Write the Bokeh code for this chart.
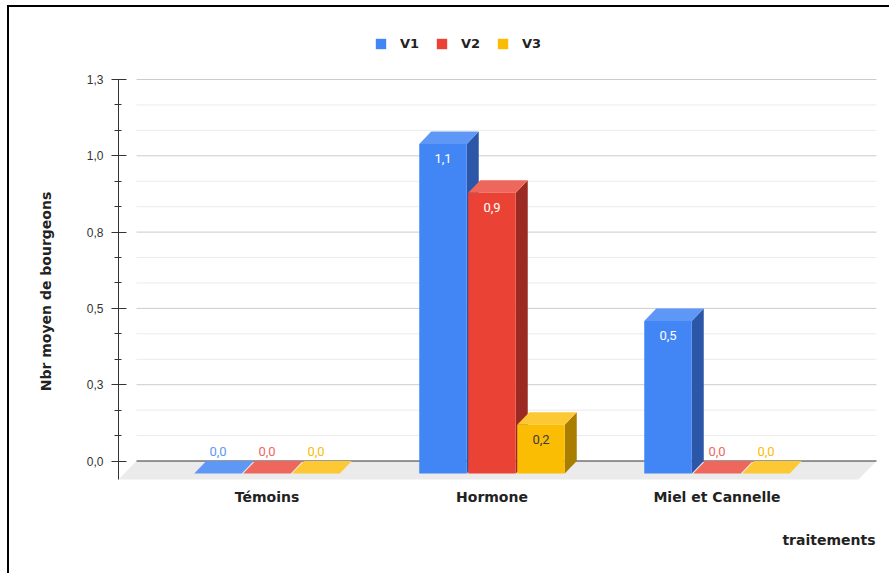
import numpy as np
from bokeh.plotting import figure
from bokeh.models import (ColumnDataSource, FixedTicker, Legend, LegendItem,
                          Range1d)
from bokeh.core.properties import value
from bokeh.embed import file_html
from bokeh.resources import INLINE

# ---------------- data ----------------
categories = ["Témoins", "Hormone", "Miel et Cannelle"]
series_names = ["V1", "V2", "V3"]
v1 = [0.0, 1.08, 0.50]
v2 = [0.0, 0.92, 0.0]
v3 = [0.0, 0.16, 0.0]
y_ticks = [0.0, 0.25, 0.5, 0.75, 1.0, 1.25]
y_tick_labels = ["0,0", "0,3", "0,5", "0,8", "1,0", "1,3"]
y_axis_title = "Nbr moyen de bourgeons"
x_axis_title = "traitements"

# ---------------- styles ----------------
front_colors = ["#4285f4", "#ea4335", "#fbbc04"]
top_colors = ["#5e97f6", "#ee675c", "#fcc934"]
side_colors = ["#2c56a8", "#9b2a22", "#a87d00"]
zero_label_colors = ["#5e97f6", "#ee675c", "#fbbc04"]
inside_label_colors = ["#ffffff", "#ffffff", "#3a3a3a"]
BOLD = "DejaVu Sans"

W, H = 882, 568
FL = 109                 # frame left (canvas px)
X_PX = 225.0
Y_PX = 305.2
x_start = -0.66
x_end = x_start + (W - FL) / X_PX
x_right = x_start + 758 / X_PX       # right end of the floor / gridlines
floor_front = -0.0606                # y of floor front edge
y_start = floor_front - 96 / Y_PX
y_end = floor_front + 472 / Y_PX

bar_w = 47.5 / X_PX
step = 49.0 / X_PX
dx = 12.0 / X_PX
dy = 12.5 / Y_PX
fdx = 18.0 / X_PX

p = figure(width=W, height=H, x_range=Range1d(x_start, x_end),
           y_range=Range1d(y_start, y_end), output_backend="svg",
           toolbar_location=None, x_axis_location=None,
           min_border_left=FL, min_border_right=0,
           min_border_top=0, min_border_bottom=0)
p.styles = {"border-top": "2px solid #000", "border-left": "2px solid #000",
            "margin-left": "7px", "margin-top": "5px"}
p.outline_line_color = None
p.xgrid.visible = False
p.ygrid.visible = False
p.background_fill_color = "#ffffff"
p.border_fill_color = "#ffffff"

# floor
p.patch([x_start, x_right - fdx, x_right, x_start + fdx],
        [floor_front, floor_front, 0, 0], fill_color="#ebebeb", line_color=None)

# gridlines
minor_vals = [k / 12 for k in range(1, 16) if k % 3 != 0]
major_vals = [t for t in y_ticks if t != 0]
n = len(minor_vals)
p.segment(x0=[x_start + fdx] * n, y0=minor_vals, x1=[x_right] * n, y1=minor_vals,
          line_color="#ebebeb", line_width=1)
m = len(major_vals)
p.segment(x0=[x_start + fdx] * m, y0=major_vals, x1=[x_right] * m, y1=major_vals,
          line_color="#cccccc", line_width=1)
p.segment(x0=[x_start + fdx], y0=[0], x1=[x_right], y1=[0],
          line_color="#333333", line_width=1)

# 3D bars
legend_items = []
all_series = [v1, v2, v3]
lab_x, lab_y, lab_t, lab_c = [], [], [], []
for j, vals in enumerate(all_series):
    fx, fy, tx, ty, sx, sy = [], [], [], [], [], []
    for i, v in enumerate(vals):
        cx = i + (j - 1) * step
        l, r = cx - bar_w / 2, cx + bar_w / 2
        fx.append([l, r, r, l]); fy.append([-dy, -dy, v - dy, v - dy])
        tx.append([l, r, r + dx, l + dx]); ty.append([v - dy, v - dy, v, v])
        sx.append([r, r + dx, r + dx, r]); sy.append([-dy, 0, v, v - dy])
        lab_x.append(cx)
        lab_t.append(f"{v:.1f}".replace(".", ","))
        if v > 0:
            lab_y.append(v - dy - 15.0 / Y_PX)
            lab_c.append(inside_label_colors[j])
        else:
            lab_y.append(9.5 / Y_PX)
            lab_c.append(zero_label_colors[j])
    p.patches(sx, sy, fill_color=side_colors[j], line_color=None)
    p.patches(tx, ty, fill_color=top_colors[j], line_color=None)
    fr = p.patches(fx, fy, fill_color=front_colors[j], line_color=None)
    legend_items.append(LegendItem(label=series_names[j], renderers=[fr]))

src = ColumnDataSource(dict(x=lab_x, y=lab_y, t=lab_t, c=lab_c))
p.text(x="x", y="y", text="t", text_color="c", source=src,
       text_font=value("Roboto"), text_font_size="13px",
       text_align="center", text_baseline="middle")

# category labels (x axis)
cat_src = ColumnDataSource(dict(x=list(range(len(categories))),
                                y=[floor_front - 17.0 / Y_PX] * len(categories),
                                t=categories))
p.text(x="x", y="y", text="t", source=cat_src, text_font=value(BOLD),
       text_font_style="bold", text_font_size="14px", text_color="#222222",
       text_align="center", text_baseline="middle")

# x axis title
p.text(x=[x_right - 1.0 / X_PX], y=[floor_front - 60.0 / Y_PX], text=[x_axis_title],
       text_font=value(BOLD), text_font_style="bold", text_font_size="14px",
       text_color="#222222", text_align="right", text_baseline="middle")

# y axis
ya = p.yaxis[0]
ya.bounds = (floor_front, 1.25)
ya.ticker = FixedTicker(ticks=y_ticks, minor_ticks=minor_vals)
ya.major_label_overrides = {t: s for t, s in zip(y_ticks, y_tick_labels)}
ya.axis_line_color = "#333333"
ya.major_tick_line_color = "#333333"
ya.minor_tick_line_color = "#333333"
ya.major_tick_out = 7
ya.major_tick_in = 8
ya.minor_tick_out = 4
ya.minor_tick_in = 3
ya.major_label_standoff = 8
ya.major_label_text_font = "Liberation Sans"
ya.major_label_text_font_size = "12px"
ya.major_label_text_color = "#333333"
ya.axis_label = y_axis_title
ya.axis_label_text_font = BOLD
ya.axis_label_text_font_style = "bold"
ya.axis_label_text_font_size = "14px"
ya.axis_label_text_color = "#222222"
ya.axis_label_standoff = 30

legend = Legend(items=legend_items, orientation="horizontal",
                location=(256, H - 44), padding=0, margin=0, spacing=15,
                glyph_width=13, glyph_height=13, label_height=13,
                label_standoff=13, label_text_font=BOLD,
                label_text_font_style="bold", label_text_font_size="13px",
                label_text_color="#222222", border_line_color=None,
                background_fill_alpha=0)
p.add_layout(legend, "center")

open("out.html", "w").write(file_html(p, INLINE))
